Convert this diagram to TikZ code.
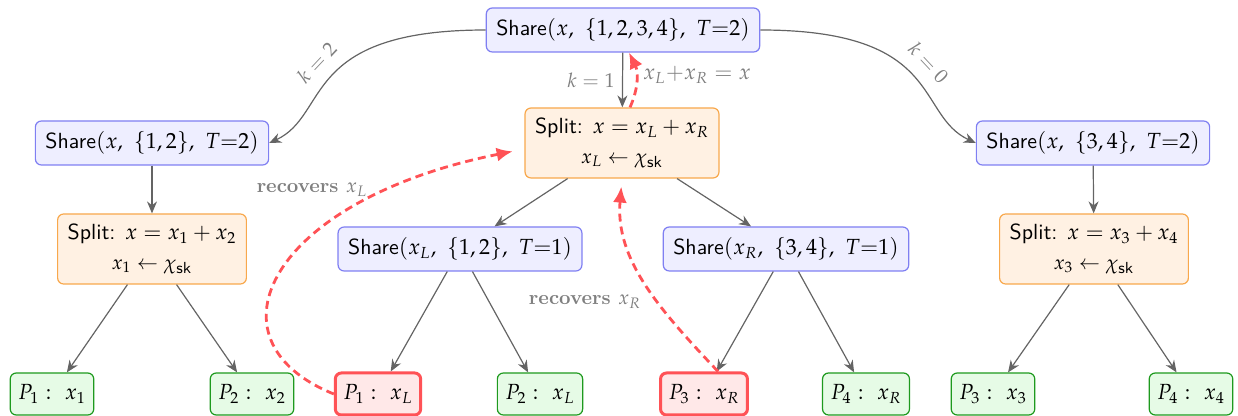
\documentclass[tikz,border=0pt,11pt]{standalone}
\IfFileExists{mathpazo.sty}{\usepackage{mathpazo}\renewcommand{\rmdefault}{lmr}}{}
\usepackage{xcolor}
\usetikzlibrary{arrows.meta,positioning,calc}

\definecolor{sharefill}{HTML}{EEEEFF}
\definecolor{shareline}{HTML}{7F7FF2}
\definecolor{splitfill}{HTML}{FFF1E3}
\definecolor{splitline}{HTML}{F8A84C}
\definecolor{leaffill}{HTML}{E6FBE6}
\definecolor{leafline}{HTML}{1E9A1E}
\definecolor{hitfill}{HTML}{FFE8E8}
\definecolor{hitline}{HTML}{FF5256}
\definecolor{edgegray}{HTML}{646464}

\begin{document}
\begin{tikzpicture}[
  x=0.5pt, y=-0.5pt,
  share/.style={draw=shareline, fill=sharefill, semithick, rounded corners=3pt, inner sep=5pt, minimum height=22pt, font=\sffamily},
  split/.style={draw=splitline, fill=splitfill, semithick, rounded corners=3pt, inner sep=5pt, minimum height=35pt, align=center, font=\sffamily},
  leaf/.style={draw=leafline, fill=leaffill, semithick, rounded corners=3pt, inner sep=4pt, minimum height=21pt},
  hit/.style={leaf, draw=hitline, fill=hitfill, line width=1.5pt},
  arrow/.style={-{Stealth[length=6pt,width=5pt]}, draw=edgegray, semithick},
  rec/.style={-{Latex[length=8pt,width=7pt]}, draw=hitline, line width=1.4pt, dash pattern=on 4pt off 2.5pt},
  lbl/.style={text=gray, font=\small},
  reclbl/.style={text=gray, font=\small\bfseries}
]
\useasboundingbox (0,0) rectangle (1238,416);

% top and second level
\node[share] (root) at (623,30) {Share$(x,\ \{1,2,3,4\},\ T{=}2)$};
\node[share] (s12) at (152,143) {Share$(x,\ \{1,2\},\ T{=}2)$};
\node[split] (spM) at (622,143) {Split: $x = x_L + x_R$\\[1pt]{\small $x_L \leftarrow \chi_{\mathsf{sk}}$}};
\node[share] (s34) at (1093,143) {Share$(x,\ \{3,4\},\ T{=}2)$};

% third level
\node[split] (sp12) at (152,249) {Split: $x = x_1 + x_2$\\[1pt]{\small $x_1 \leftarrow \chi_{\mathsf{sk}}$}};
\node[share] (sL) at (460,249) {Share$(x_L,\ \{1,2\},\ T{=}1)$};
\node[share] (sR) at (786,249) {Share$(x_R,\ \{3,4\},\ T{=}1)$};
\node[split] (sp34) at (1094,249) {Split: $x = x_3 + x_4$\\[1pt]{\small $x_3 \leftarrow \chi_{\mathsf{sk}}$}};

% leaves
\node[leaf] (p1a) at (52,394) {$P_1:\ x_1$};
\node[leaf] (p2a) at (252,394) {$P_2:\ x_2$};
\node[hit] (p1L) at (378,394) {$P_1:\ x_L$};
\node[leaf] (p2L) at (540,394) {$P_2:\ x_L$};
\node[hit] (p3R) at (704,394) {$P_3:\ x_R$};
\node[leaf] (p4R) at (866,394) {$P_4:\ x_R$};
\node[leaf] (p3b) at (993,394) {$P_3:\ x_3$};
\node[leaf] (p4b) at (1191,394) {$P_4:\ x_4$};

\draw[arrow] (root.west) .. controls (300,30) and (330,115) .. node[midway, sloped, above=2pt, lbl] {$k=2$} (s12.east);
\draw[arrow] (root) -- node[left, lbl] {$k=1$} (spM);
\draw[arrow] (root.east) .. controls (945,30) and (915,115) .. node[midway, sloped, above=2pt, lbl] {$k=0$} (s34.west);

\draw[arrow] (s12) -- (sp12);
\draw[arrow] (s34) -- (sp34);
\draw[arrow] (spM) -- (sL);
\draw[arrow] (spM) -- (sR);

\draw[arrow] (sp12) -- (p1a);
\draw[arrow] (sp12) -- (p2a);
\draw[arrow] (sL) -- (p1L);
\draw[arrow] (sL) -- (p2L);
\draw[arrow] (sR) -- (p3R);
\draw[arrow] (sR) -- (p4R);
\draw[arrow] (sp34) -- (p3b);
\draw[arrow] (sp34) -- (p4b);

% reconstruction paths
\draw[rec] ([xshift=4pt]spM.north) to[bend right=25] ([xshift=3pt]root.south);
\node[lbl, font=\normalsize] (sum) at (697,75) {$x_L{+}x_R = x$};
\draw[rec, shorten >=6pt] (p1L.west) .. controls (200,340) and (270,200) .. ([yshift=-3pt]spM.west);
\node[reclbl] (recL) at (312,190) {recovers \mdseries$x_L$};
\draw[rec, shorten >=4pt] ([xshift=7pt]p3R.north) .. controls (660,310) and (615,260) .. (spM.south);
\node[reclbl] (recR) at (585,302) {recovers \mdseries$x_R$};
\end{tikzpicture}
\end{document}
